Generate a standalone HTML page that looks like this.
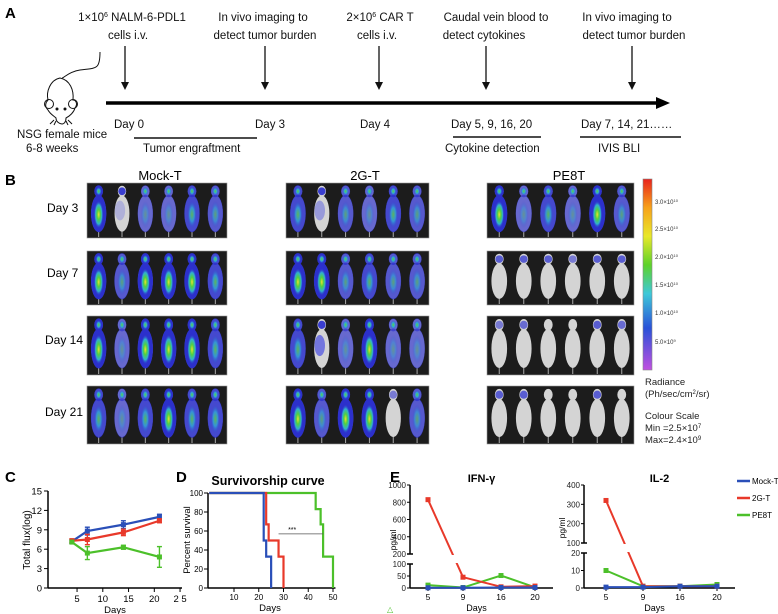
<!DOCTYPE html>
<html><head><meta charset="utf-8"><style>
html,body{margin:0;padding:0;background:#fff}
svg{display:block;font-family:"Liberation Sans",Arial,sans-serif}
</style></head><body>
<svg id="fig" width="778" height="614" viewBox="0 0 778 614" xmlns="http://www.w3.org/2000/svg">
<defs>
<linearGradient id="cbar" x1="0" y1="0" x2="0" y2="1">
<stop offset="0" stop-color="#e8221c"/><stop offset="0.15" stop-color="#f7a21a"/><stop offset="0.3" stop-color="#e8e82a"/><stop offset="0.45" stop-color="#5ed22a"/><stop offset="0.6" stop-color="#3ec8d8"/><stop offset="0.78" stop-color="#2a52d8"/><stop offset="1" stop-color="#c050e0"/>
</linearGradient>
<radialGradient id="hot"><stop offset="0" stop-color="#f0e030"/><stop offset="0.35" stop-color="#50d040"/><stop offset="0.7" stop-color="#30b0d0"/><stop offset="1" stop-color="#3040d0" stop-opacity="0"/></radialGradient>
<radialGradient id="warm"><stop offset="0" stop-color="#60d040"/><stop offset="0.5" stop-color="#30a8d8"/><stop offset="1" stop-color="#3040d0" stop-opacity="0"/></radialGradient>
</defs>

<!-- Panel A -->
<g>
<text x="5" y="18" font-size="15" font-weight="bold">A</text>
<g font-size="11.5" text-anchor="middle" fill="#111">
<text x="132" y="21">1×10<tspan font-size="7" dy="-4">6</tspan><tspan dy="4"> NALM-6-PDL1</tspan></text>
<text x="128" y="39">cells i.v.</text>
<text x="263" y="21">In vivo imaging  to</text>
<text x="265" y="39">detect tumor burden</text>
<text x="380" y="21">2×10<tspan font-size="7" dy="-4">6</tspan><tspan dy="4"> CAR T</tspan></text>
<text x="377" y="39">cells i.v.</text>
<text x="496" y="21">Caudal vein blood to</text>
<text x="484" y="39">detect cytokines</text>
<text x="627" y="21">In vivo imaging to</text>
<text x="634" y="39">detect tumor burden</text>
</g>
<g stroke="#111" stroke-width="1.3">
<line x1="125" y1="46" x2="125" y2="86"/><line x1="265" y1="46" x2="265" y2="86"/><line x1="379" y1="46" x2="379" y2="86"/><line x1="486" y1="46" x2="486" y2="86"/><line x1="632" y1="46" x2="632" y2="86"/>
</g>
<g fill="#111">
<polygon points="121,82 129,82 125,90"/><polygon points="261,82 269,82 265,90"/><polygon points="375,82 383,82 379,90"/><polygon points="482,82 490,82 486,90"/><polygon points="628,82 636,82 632,90"/>
</g>
<line x1="106" y1="103" x2="660" y2="103" stroke="#000" stroke-width="3.5"/>
<polygon points="656,97 670,103 656,109" fill="#000"/>
<g font-size="11.5" fill="#111">
<text x="114" y="128">Day 0</text>
<text x="255" y="128">Day 3</text>
<text x="360" y="128">Day 4</text>
<text x="451" y="128">Day 5, 9, 16, 20</text>
<text x="581" y="128">Day 7, 14, 21……</text>
<text x="17" y="138">NSG female mice</text>
<text x="26" y="152">6-8 weeks</text>
<text x="143" y="152">Tumor engraftment</text>
<text x="445" y="152">Cytokine detection</text>
<text x="598" y="152">IVIS BLI</text>
</g>
<g stroke="#111" stroke-width="1.5">
<line x1="134" y1="138" x2="257" y2="138"/><line x1="453" y1="137" x2="541" y2="137"/><line x1="580" y1="137" x2="681" y2="137"/>
</g>
<g fill="none" stroke="#111" stroke-width="1">
<path d="M100,52 C100,70 96,68 80,70 C68,72 64,78 62,78"/>
<path d="M60,78 C50,80 46,92 48,100 C46,102 44,106 48,110 C50,114 54,116 56,118 C56,122 60,124 62,124 C64,124 66,122 66,118 C70,116 74,112 75,108 C78,104 76,100 73,100 C74,90 70,80 60,78 Z"/>
<circle cx="49" cy="104" r="4.5"/><circle cx="73" cy="104" r="4.5"/>
<circle cx="57" cy="109" r="1" fill="#111"/><circle cx="65" cy="109" r="1" fill="#111"/>
<path d="M54,120 l-4,4 M56,121 l-2,4 M66,121 l2,4 M68,120 l4,4"/>
</g>
</g>

<!-- Panel B -->
<g id="panelB">
<text x="5" y="185" font-size="15" font-weight="bold">B</text>
<g font-size="13" text-anchor="middle">
<text x="160" y="180">Mock-T</text>
<text x="365" y="180">2G-T</text>
<text x="569" y="180">PE8T</text>
</g>
<g font-size="12">
<text x="47" y="212">Day 3</text>
<text x="47" y="277">Day 7</text>
<text x="45" y="344">Day 14</text>
<text x="45" y="416">Day 21</text>
</g>
<rect x="643" y="179" width="9" height="191" fill="url(#cbar)" stroke="#888" stroke-width="0.6"/>
<g font-size="6" fill="#333">
<text x="655" y="204">3.0×10<tspan font-size="4" dy="-2">10</tspan></text>
<text x="655" y="231">2.5×10<tspan font-size="4" dy="-2">10</tspan></text>
<text x="655" y="259">2.0×10<tspan font-size="4" dy="-2">10</tspan></text>
<text x="655" y="287">1.5×10<tspan font-size="4" dy="-2">10</tspan></text>
<text x="655" y="315">1.0×10<tspan font-size="4" dy="-2">10</tspan></text>
<text x="655" y="344">5.0×10<tspan font-size="4" dy="-2">9</tspan></text>
</g>
<g font-size="9.5" fill="#222">
<text x="645" y="385">Radiance</text>
<text x="645" y="397">(Ph/sec/cm<tspan font-size="6" dy="-3">2</tspan><tspan dy="3">/sr)</tspan></text>
<text x="645" y="419">Colour Scale</text>
<text x="645" y="431">Min =2.5×10<tspan font-size="6" dy="-3">7</tspan></text>
<text x="645" y="443">Max=2.4×10<tspan font-size="6" dy="-3">9</tspan></text>
</g>
</g>

<!-- Panel C/D/E -->
<g id="panelC"></g>
<g id="panelD"></g>
<g id="panelE"></g>
</svg>
<script>
// ---- Panel C data ----
const fluxDays = [4, 7, 14, 21];
const fluxMock = [7.2, 8.8, 9.8, 11.0];
const fluxMockErr = [0.3, 0.6, 0.6, 0.4];
const flux2G = [7.3, 7.5, 8.6, 10.4];
const flux2GErr = [0.3, 0.8, 0.5, 0.3];
const fluxPE8T = [7.1, 5.4, 6.3, 4.8];
const fluxPE8TErr = [0.2, 1.0, 0.3, 1.6];
const fluxYTicks = [0, 3, 6, 9, 12, 15];
const fluxXTicks = [5, 10, 15, 20, 25];
// ---- Panel D data ----
const survMockT = [0, 22, 23, 25];
const survMockS = [100, 50, 33, 0];
const surv2GT = [0, 23, 24, 28, 30];
const surv2GS = [100, 67, 50, 33, 0];
const survPE8TT = [0, 43, 45, 46, 50];
const survPE8TS = [100, 83, 67, 33, 0];
const survYTicks = [0, 20, 40, 60, 80, 100];
const survXTicks = [10, 20, 30, 40, 50];
// ---- Panel E data ----
const cytoDays = ["5", "9", "16", "20"];
const ifnMock = [1, 1, 2, 2];
const ifn2G = [830, 45, 5, 8];
const ifnPE8T = [12, 2, 52, 3];
const il2Mock = [0.5, 0.5, 1, 1];
const il22G = [320, 1, 1, 1];
const il2PE8T = [10, 1, 1, 2];
const ifnTopTicks = [200, 400, 600, 800, 1000];
const ifnBotTicks = [0, 50, 100];
const il2TopTicks = [100, 200, 300, 400];
const il2BotTicks = [0, 10, 20];
const legendNames = ["Mock-T", "2G-T", "PE8T"];

const NS = "http://www.w3.org/2000/svg";
const BLUE = "#2a4fb8", RED = "#e8392a", GREEN = "#4cc02a";
function mk(parent, tag, attrs, txt) {
  const e = document.createElementNS(NS, tag);
  for (const k in attrs) e.setAttribute(k, attrs[k]);
  if (txt !== undefined) e.textContent = txt;
  parent.appendChild(e);
  return e;
}

// ---- Panel B mice ----
const B = document.getElementById('panelB');
const boxes = [{x:87,w:140},{x:286,w:143},{x:487,w:147}];
const rows = [{y:183,h:55},{y:251,h:54},{y:316,h:59},{y:386,h:58}];
const levels = [
 [[3,0.3,1,1,2,1.5],[2,0.5,1.5,1,2,1.5],[3,1,2,1,3,1.5]],
 [[3,1.5,3,3,3,2],[3,3,1.5,2,1.5,1.5],[0.2,0.2,0.2,0.1,0.2,0.2]],
 [[3,1,3,3,3,2],[2,0.8,1,3,1,1],[0.1,0.15,0,0,0.2,0.15]],
 [[2,1,2,3,2,2],[3,1.5,3,3,0.1,1.5],[0.2,0.2,0,0,0.2,0]]
];
rows.forEach((r, ri) => boxes.forEach((b, bi) => {
  const g = mk(B, 'g', {});
  
  
  mk(g, 'rect', {x:b.x, y:r.y, width:b.w, height:r.h, fill:'#1c1c1c', stroke:'#999', 'stroke-width':0.6});
  const mw = b.w / 6;
  for (let m = 0; m < 6; m++) {
    const cx = b.x + mw * (m + 0.5), cy = r.y + r.h * 0.5;
    const lv = levels[ri][bi][m];
    mk(g, 'line', {x1:cx, y1:cy + r.h*0.3, x2:cx, y2:r.y + r.h - 1, stroke:'#aaa', 'stroke-width':1});
    mk(g, 'ellipse', {cx:cx, cy:cy + 3, rx:mw*0.32, ry:r.h*0.33, fill:'#d4d4d4'});
    mk(g, 'ellipse', {cx:cx, cy:r.y + r.h*0.15, rx:mw*0.18, ry:r.h*0.1, fill:'#d4d4d4'});
    if (lv >= 1) {
      const op = Math.min(1, 0.45 + lv * 0.2);
      mk(g, 'ellipse', {cx:cx, cy:cy + 3, rx:mw*0.33, ry:r.h*0.34, fill:'#2c30cc', opacity:op});
      mk(g, 'ellipse', {cx:cx, cy:r.y + r.h*0.15, rx:mw*0.19, ry:r.h*0.11, fill:'#2c30cc', opacity:op});
      mk(g, 'ellipse', {cx:cx, cy:cy + 4, rx:mw*0.2, ry:r.h*0.25, fill: lv >= 2.5 ? 'url(#hot)' : 'url(#warm)', opacity: Math.min(1, lv/2.5)});
      mk(g, 'ellipse', {cx:cx, cy:r.y + r.h*0.15, rx:mw*0.13, ry:r.h*0.08, fill:'url(#warm)'});
    } else if (lv > 0) {
      mk(g, 'ellipse', {cx:cx, cy:r.y + r.h*0.15, rx:mw*0.16, ry:r.h*0.07, fill:'#3a3ed0', opacity:0.4 + lv*2});
      if (lv >= 0.3) mk(g, 'ellipse', {cx:cx - 2, cy:cy, rx:mw*0.22, ry:r.h*0.18, fill:'#5a5ee0', opacity:lv});
    }
  }
}));

// ---- Panel C ----
(function(){
  const G = document.getElementById('panelC');
  mk(G, 'text', {x:5, y:482, 'font-size':15, 'font-weight':'bold'}, 'C');
  const x0 = 48, x1 = 182, yb = 588, yt = 491;
  const sx = d => 51.3 + d * 5.15, sy = v => yb - (v / 15) * (yb - yt);
  mk(G, 'line', {x1:x0, y1:yt, x2:x0, y2:yb, stroke:'#000', 'stroke-width':1.5});
  mk(G, 'line', {x1:x0, y1:yb, x2:x1, y2:yb, stroke:'#000', 'stroke-width':1.5});
  fluxYTicks.forEach(t => {
    mk(G, 'line', {x1:x0-4, y1:sy(t), x2:x0, y2:sy(t), stroke:'#000'});
    mk(G, 'text', {x:x0-6, y:sy(t)+3.5, 'font-size':9.5, 'text-anchor':'end'}, t);
  });
  fluxXTicks.forEach(t => {
    mk(G, 'line', {x1:sx(t), y1:yb, x2:sx(t), y2:yb+4, stroke:'#000'});
    mk(G, 'text', {x:sx(t), y:yb+14, 'font-size':9.5, 'text-anchor':'middle'}, t === 25 ? '2 5' : t);
  });
  mk(G, 'text', {x:115, y:613, 'font-size':9.5, 'text-anchor':'middle'}, 'Days');
  mk(G, 'text', {x:30, y:540, 'font-size':10, 'text-anchor':'middle', transform:'rotate(-90 30 540)'}, 'Total flux(log)');
  [[fluxMock, fluxMockErr, BLUE, 'mock-t'], [flux2G, flux2GErr, RED, '2g-t'], [fluxPE8T, fluxPE8TErr, GREEN, 'pe8t']].forEach(([v, e, c, n]) => {
    const s = mk(G, 'polyline', {points: fluxDays.map((d,i) => sx(d)+','+sy(v[i])).join(' '), fill:'none', stroke:c, 'stroke-width':2.2});
    
    
    fluxDays.forEach((d,i) => {
      mk(G, 'line', {x1:sx(d), y1:sy(v[i]-e[i]), x2:sx(d), y2:sy(v[i]+e[i]), stroke:c, 'stroke-width':1.4});
      mk(G, 'line', {x1:sx(d)-2.5, y1:sy(v[i]-e[i]), x2:sx(d)+2.5, y2:sy(v[i]-e[i]), stroke:c, 'stroke-width':1.4});
      mk(G, 'line', {x1:sx(d)-2.5, y1:sy(v[i]+e[i]), x2:sx(d)+2.5, y2:sy(v[i]+e[i]), stroke:c, 'stroke-width':1.4});
      const p = mk(G, 'rect', {x:sx(d)-2.5, y:sy(v[i])-2.5, width:5, height:5, fill:c});
      
      
    });
  });
})();

// ---- Panel D ----
(function(){
  const G = document.getElementById('panelD');
  mk(G, 'text', {x:176, y:482, 'font-size':15, 'font-weight':'bold'}, 'D');
  mk(G, 'text', {x:268, y:485, 'font-size':12.5, 'font-weight':'bold', 'text-anchor':'middle'}, 'Survivorship curve');
  const x0 = 208, yb = 588, yt = 493;
  const sx = d => 209.25 + d * 2.475, sy = v => yb - (v / 100) * (yb - yt);
  mk(G, 'line', {x1:x0, y1:yt, x2:x0, y2:yb, stroke:'#000', 'stroke-width':1.5});
  mk(G, 'line', {x1:x0, y1:yb, x2:sx(51), y2:yb, stroke:'#000', 'stroke-width':1.5});
  survYTicks.forEach(t => {
    mk(G, 'line', {x1:x0-4, y1:sy(t), x2:x0, y2:sy(t), stroke:'#000'});
    mk(G, 'text', {x:x0-5, y:sy(t)+3, 'font-size':8, 'text-anchor':'end'}, t);
  });
  survXTicks.forEach(t => {
    mk(G, 'line', {x1:sx(t), y1:yb, x2:sx(t), y2:yb+4, stroke:'#000'});
    mk(G, 'text', {x:sx(t), y:yb+12, 'font-size':8, 'text-anchor':'middle'}, t);
  });
  mk(G, 'text', {x:270, y:611, 'font-size':9.5, 'text-anchor':'middle'}, 'Days');
  mk(G, 'text', {x:190, y:540, 'font-size':9.5, 'text-anchor':'middle', transform:'rotate(-90 190 540)'}, 'Percent survival');
  function step(t, s) {
    let pts = [[t[0], s[0]]];
    for (let i = 1; i < t.length; i++) { pts.push([t[i], s[i-1]]); pts.push([t[i], s[i]]); }
    return pts.map(p => sx(p[0]) + ',' + sy(p[1])).join(' ');
  }
  [[survPE8TT, survPE8TS, GREEN, 'pe8t'], [surv2GT, surv2GS, RED, '2g-t'], [survMockT, survMockS, BLUE, 'mock-t']].forEach(([t, s, c, n]) => {
    const l = mk(G, 'polyline', {points: step(t, s), fill:'none', stroke:c, 'stroke-width':2.2});
    
    
  });
  mk(G, 'line', {x1:sx(28), y1:sy(57), x2:sx(46), y2:sy(57), stroke:'#555', 'stroke-width':0.8});
  mk(G, 'text', {x:sx(33.5), y:sy(59), 'font-size':7, 'text-anchor':'middle'}, '***');
})();

// ---- Panel E ----
(function(){
  const G = document.getElementById('panelE');
  mk(G, 'text', {x:390, y:482, 'font-size':15, 'font-weight':'bold'}, 'E');
  mk(G, 'text', {x:387, y:612, 'font-size':8, fill:GREEN}, '△');
  function chart(o) {
    const {x0, xEnd, xs, title, top, topTicks, bot, botTicks, series, name} = o;
    const yb = 588;
    const sy = v => v <= bot.max ? yb - (v / bot.max) * (yb - bot.yTop)
                              : top.yBot - ((v - top.min) / (top.max - top.min)) * (top.yBot - 485);
    mk(G, 'text', {x:(x0 + xEnd)/2, y:482, 'font-size':11, 'font-weight':'bold', 'text-anchor':'middle'}, title);
    mk(G, 'line', {x1:x0, y1:485, x2:x0, y2:top.yBot, stroke:'#000', 'stroke-width':1.5});
    mk(G, 'line', {x1:x0, y1:bot.yTop, x2:x0, y2:yb, stroke:'#000', 'stroke-width':1.5});
    mk(G, 'line', {x1:x0-3, y1:top.yBot, x2:x0+3, y2:top.yBot, stroke:'#000', 'stroke-width':1.5});
    mk(G, 'line', {x1:x0-3, y1:bot.yTop, x2:x0+3, y2:bot.yTop, stroke:'#000', 'stroke-width':1.5});
    mk(G, 'line', {x1:x0, y1:yb, x2:xEnd, y2:yb, stroke:'#000', 'stroke-width':1.5});
    topTicks.concat(botTicks).forEach(t => {
      mk(G, 'line', {x1:x0-3, y1:sy(t), x2:x0, y2:sy(t), stroke:'#000'});
      mk(G, 'text', {x:x0-4, y:sy(t)+3, 'font-size':8, 'text-anchor':'end', fill:'#222'}, t);
    });
    cytoDays.forEach((d, i) => {
      mk(G, 'line', {x1:xs[i], y1:yb, x2:xs[i], y2:yb+3, stroke:'#000'});
      mk(G, 'text', {x:xs[i], y:yb+12, 'font-size':8.5, 'text-anchor':'middle'}, d);
    });
    mk(G, 'text', {x:(x0 + xEnd)/2 - 5, y:611, 'font-size':9, 'text-anchor':'middle'}, 'Days');
    series.forEach(([v, c, n]) => {
      const l = mk(G, 'polyline', {points: v.map((val, i) => xs[i] + ',' + sy(val)).join(' '), fill:'none', stroke:c, 'stroke-width':2});
      
      
      v.forEach((val, i) => {
        const p = mk(G, 'rect', {x:xs[i]-2.5, y:sy(val)-2.5, width:5, height:5, fill:c});
        
        
      });
    });
    mk(G, 'rect', {x:x0+2, y:top.yBot+1, width:xEnd-x0, height:bot.yTop-top.yBot-2, fill:'#fff'});
  }
  chart({x0:410, xEnd:553, xs:[428,463,501,535], title:'IFN-γ', name:'ifn',
    top:{min:200, max:1000, yBot:554}, topTicks:ifnTopTicks,
    bot:{max:100, yTop:564}, botTicks:ifnBotTicks,
    series:[[ifnPE8T, GREEN, 'pe8t'], [ifn2G, RED, '2g-t'], [ifnMock, BLUE, 'mock-t']]});
  chart({x0:584, xEnd:735, xs:[606,643,680,717], title:'IL-2', name:'il2',
    top:{min:100, max:400, yBot:543}, topTicks:il2TopTicks,
    bot:{max:20, yTop:553}, botTicks:il2BotTicks,
    series:[[il2PE8T, GREEN, 'pe8t'], [il22G, RED, '2g-t'], [il2Mock, BLUE, 'mock-t']]});
  mk(G, 'text', {x:396, y:540, 'font-size':8.5, 'text-anchor':'middle', transform:'rotate(-90 396 540)'}, 'pg/ml');
  mk(G, 'text', {x:565, y:528, 'font-size':8.5, 'text-anchor':'middle', transform:'rotate(-90 565 528)'}, 'pg/ml');
  [BLUE, RED, GREEN].forEach((c, i) => {
    const lg = mk(G, 'g', {});
    
    
    mk(lg, 'line', {x1:737, y1:481 + i*17, x2:750, y2:481 + i*17, stroke:c, 'stroke-width':2.5});
    mk(lg, 'text', {x:752, y:484 + i*17, 'font-size':8}, legendNames[i]);
  });
})();
</script>
</body></html>
